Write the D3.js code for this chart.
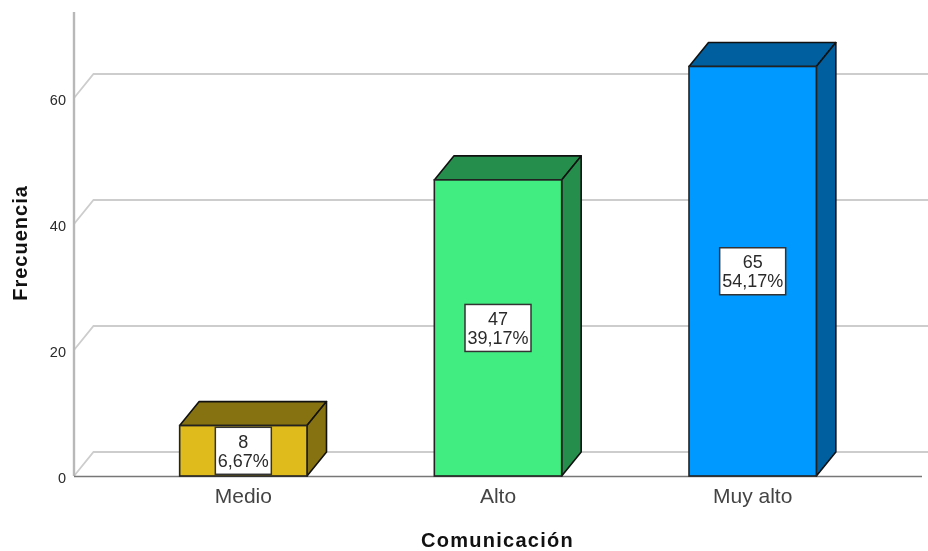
<!DOCTYPE html>
<html><head><meta charset="utf-8">
<script src="https://cdn.jsdelivr.net/npm/d3@7"></script>
<style>html,body{margin:0;background:#fff}svg{display:block;filter:blur(0.35px)}text{font-family:"Liberation Sans",Arial,sans-serif}</style>
</head><body><div id="c"></div>
<script>
const categories=["Medio","Alto","Muy alto"];
const counts=[8,47,65];
const percents=["6,67%","39,17%","54,17%"];
const frontColors=["#e0bb1c","#41ec80","#0099ff"];
const sideColors=["#877212","#268e4c","#005f9e"];
const yTicks=[0,20,40,60];
const xTitle="Comunicación", yTitle="Frecuencia";

const W=928,H=551,dx=19.5,dy=24;
const svg=d3.select("#c").append("svg").attr("width",W).attr("height",H);
const y=d3.scaleLinear().domain([0,60]).range([476,98]);
const x=d3.scaleBand().domain(categories).range([116,880]).paddingInner(.5).paddingOuter(.25);
const X0=74;

yTicks.forEach(t=>{
  svg.append("path").attr("fill","none").attr("stroke","#cdcdcd").attr("stroke-width",1.8)
    .attr("d",`M${X0},${y(t)}L${X0+dx},${y(t)-dy}L${W},${y(t)-dy}`);
});
svg.append("line").attr("x1",X0).attr("x2",X0).attr("y1",12).attr("y2",476).attr("stroke","#b8b8b8").attr("stroke-width",2.4);
svg.append("line").attr("x1",X0).attr("x2",922).attr("y1",476.5).attr("y2",476.5).attr("stroke","#777").attr("stroke-width",1.5);

const yAxis=svg.append("g").attr("transform","translate(66,1)").call(d3.axisLeft(y).tickValues(yTicks).tickSize(0).tickPadding(0));
yAxis.select(".domain").remove();
yAxis.selectAll("text").attr("font-size",14.5).attr("fill","#2a2a2a").attr("dy","0.36em")
  .attr("font-family",'"Liberation Sans",Arial,sans-serif');

const xAxis=svg.append("g").attr("transform","translate(0,488)").call(d3.axisBottom(x).tickSize(0).tickPadding(0));
xAxis.select(".domain").remove();
xAxis.selectAll("text").attr("font-size",21).attr("fill","#444").attr("dy","0.71em")
  .attr("font-family",'"Liberation Sans",Arial,sans-serif');

const data=categories.map((c,i)=>({c,v:counts[i],p:percents[i],f:frontColors[i],s:sideColors[i]}));
const bars=svg.selectAll(".bar").data(data).join("g").attr("class","bar");
bars.append("path").attr("fill",d=>d.s).attr("stroke","#111").attr("stroke-width",1.6).attr("stroke-linejoin","round")
  .attr("d",d=>{const a=x(d.c),b=a+x.bandwidth(),t=y(d.v);
    return `M${a},${t}L${a+dx},${t-dy}L${b+dx},${t-dy}L${b},${t}Z`;});
bars.append("path").attr("fill",d=>d.s).attr("stroke","#111").attr("stroke-width",1.6).attr("stroke-linejoin","round")
  .attr("d",d=>{const b=x(d.c)+x.bandwidth(),t=y(d.v),z=y(0);
    return `M${b},${t}L${b+dx},${t-dy}L${b+dx},${z-dy}L${b},${z}Z`;});
bars.append("rect").attr("x",d=>x(d.c)).attr("y",d=>y(d.v)).attr("width",x.bandwidth())
  .attr("height",d=>y(0)-y(d.v)).attr("fill",d=>d.f).attr("stroke","#222").attr("stroke-width",1.6);

bars.each(function(d){
  const g=d3.select(this),cx=x(d.c)+x.bandwidth()/2,cy=(y(d.v)+y(0))/2;
  const bw=d.p.length>5?66:56;
  g.append("rect").attr("x",cx-bw/2).attr("y",cy-23.5).attr("width",bw).attr("height",47)
    .attr("fill","#fff").attr("stroke","#333").attr("stroke-width",1.5);
  g.append("text").attr("x",cx).attr("y",cy-3).attr("text-anchor","middle").attr("font-size",18).attr("fill","#2a2a2a").text(d.v);
  g.append("text").attr("x",cx).attr("y",cy+16).attr("text-anchor","middle").attr("font-size",18).attr("fill","#2a2a2a").text(d.p);
});

svg.append("text").attr("x",497.5).attr("y",546.7).attr("text-anchor","middle").attr("font-size",20).attr("letter-spacing",1.25).attr("font-weight","bold").attr("fill","#111").text(xTitle);
svg.append("text").attr("transform","translate(26.5,243) rotate(-90)").attr("text-anchor","middle").attr("font-size",20).attr("letter-spacing",1).attr("font-weight","bold").attr("fill","#111").text(yTitle);
</script></body></html>
